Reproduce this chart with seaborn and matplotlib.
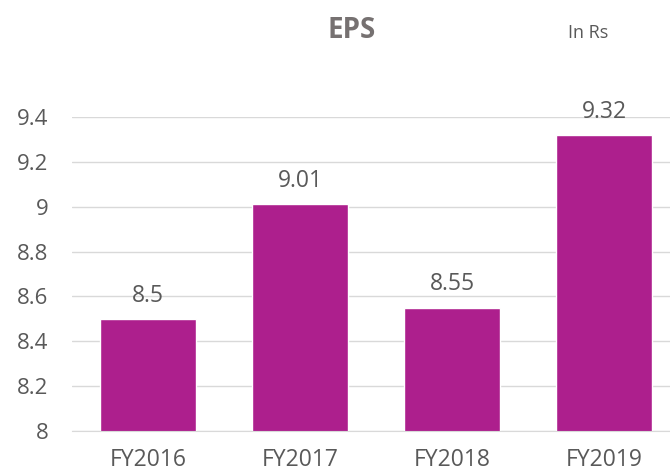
import matplotlib.pyplot as plt
import seaborn as sns
import pandas as pd

years = ["FY2016", "FY2017", "FY2018", "FY2019"]
eps = [8.5, 9.01, 8.55, 9.32]
y_ticks = [8, 8.2, 8.4, 8.6, 8.8, 9, 9.2, 9.4]
y_tick_labels = ["8", "8.2", "8.4", "8.6", "8.8", "9", "9.2", "9.4"]

sns.set_style("white")
plt.rcParams['font.family'] = ['Open Sans', 'DejaVu Sans']

text_col = "#595959"
bar_col = "#AD1F8D"

df = pd.DataFrame({"year": years, "eps": eps})

fig = plt.figure(figsize=(6.7, 4.72), dpi=100)
ax = fig.add_axes([72 / 670, 41 / 472, 608 / 670, 314 / 472])
sns.barplot(data=df, x="year", y="eps", color=bar_col, width=0.63, ax=ax, saturation=1)

ax.set_ylim(8, 9.4)
ax.set_xlim(-0.5, 3.5)
ax.set_yticks(y_ticks)
ax.set_yticklabels(y_tick_labels)
ax.yaxis.grid(True, color="#d9d9d9", linewidth=1)
ax.set_axisbelow(True)
for s in ["top", "right", "left"]:
    ax.spines[s].set_visible(False)
ax.spines["bottom"].set_color("#d9d9d9")
ax.tick_params(axis="y", length=0, pad=17, labelsize=16, labelcolor=text_col)
ax.tick_params(axis="x", length=0, pad=12, labelsize=16.5, labelcolor=text_col)
ax.set_xlabel("")
ax.set_ylabel("")

for i, v in enumerate(eps):
    ax.text(i, v + 0.05, f"{v:g}", ha="center", va="bottom", fontsize=16.5, color=text_col)

fig.text(352 / 670, 1 - 30 / 472, "EPS", ha="center", va="center", fontsize=20,
         fontweight="bold", color="#767171")
fig.text(588 / 670, 1 - 33 / 472, "In Rs", ha="center", va="center", fontsize=13, color=text_col)

plt.savefig("out.png", dpi=100)
